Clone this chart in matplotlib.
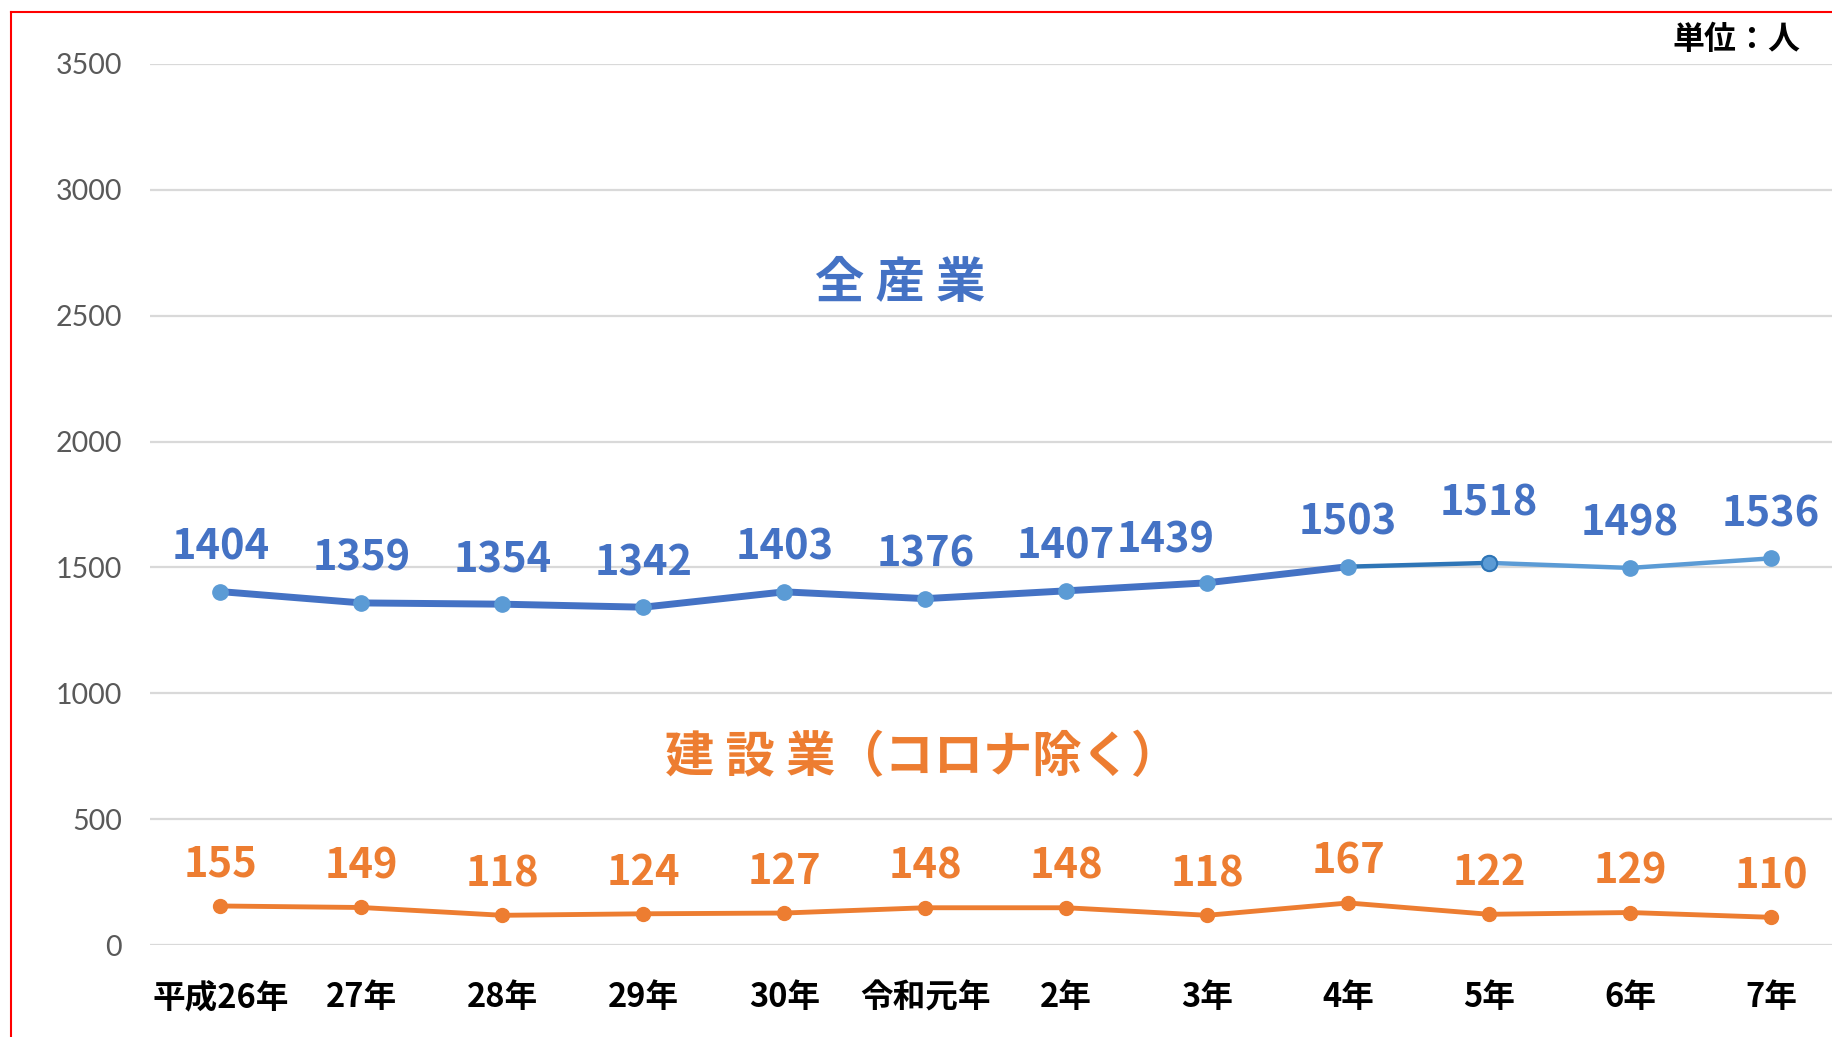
import matplotlib
matplotlib.use('Agg')
import matplotlib.pyplot as plt
from matplotlib.lines import Line2D

plt.rcParams['font.family'] = ['Noto Sans CJK JP', 'DejaVu Sans']

years = ['平成26年', '27年', '28年', '29年', '30年', '令和元年', '2年', '3年', '4年', '5年', '6年', '7年']
all_industry = [1404, 1359, 1354, 1342, 1403, 1376, 1407, 1439, 1503, 1518, 1498, 1536]
construction = [155, 149, 118, 124, 127, 148, 148, 118, 167, 122, 129, 110]
yticks = [0, 500, 1000, 1500, 2000, 2500, 3000, 3500]

BLUE = '#4472C4'
BLUE_DARK = '#2E75B6'
BLUE_LIGHT = '#5B9BD5'
ORANGE = '#ED7D31'
num_font = ['Liberation Sans Narrow', 'Noto Sans CJK JP']

W, H = 1833, 1037
fig = plt.figure(figsize=(W / 100, H / 100), dpi=100)
ax = fig.add_axes([150 / W, 92 / H, 1 - 150 / W, (945 - 64) / H])

x = list(range(len(years)))

# 全産業 line: three colour segments like the original
ax.plot(x[:9], all_industry[:9], color=BLUE, lw=5, solid_capstyle='round', zorder=3)
ax.plot(x[8:10], all_industry[8:10], color=BLUE_DARK, lw=3.2, zorder=3)
ax.plot(x[9:], all_industry[9:], color=BLUE_LIGHT, lw=3.2, zorder=3)
ax.plot(x, all_industry, 'o', ms=11, color=BLUE_LIGHT, mec=BLUE_LIGHT, zorder=4)
ax.plot(x[9], all_industry[9], 'o', ms=11, color=BLUE_LIGHT, mec=BLUE_DARK, mew=1.5, zorder=5)

ax.plot(x, construction, '-o', color=ORANGE, lw=3.5, ms=10, zorder=3)

# data labels
blue_off = {7: (-30, 22), 9: (0, 34)}
for i, v in enumerate(all_industry):
    dx, dy = blue_off.get(i, (0, 23))
    ax.annotate(str(v), (i, v), xytext=(dx, dy), textcoords='offset points',
                ha='center', va='baseline', fontsize=30, fontweight='bold',
                color=BLUE, family=num_font)
for i, v in enumerate(construction):
    ax.annotate(str(v), (i, v), xytext=(0, 21), textcoords='offset points',
                ha='center', va='baseline', fontsize=30, fontweight='bold',
                color=ORANGE, family=num_font)

# series titles
fig.text(900 / W, 1 - 283 / H, '全 産 業', ha='center', va='center',
         fontsize=35.5, fontweight='bold', color=BLUE)
fig.text(923 / W, 1 - 758 / H, '建 設 業（コロナ除く）', ha='center', va='center',
         fontsize=35.5, fontweight='bold', color=ORANGE)
fig.text(1800 / W, 1 - 40 / H, '単位：人', ha='right', va='center',
         fontsize=23, fontweight='bold', color='black')

ax.set_ylim(0, 3500)
ax.set_xlim(-0.5, 11.44)
ax.set_yticks(yticks)
ax.set_yticklabels([str(t) for t in yticks], family=['Lato', 'DejaVu Sans'],
                   fontsize=20.5, color='#595959')
ax.set_xticks(x)
ax.set_xticklabels(years, family=num_font, fontsize=23.5, fontweight='bold', color='black')
ax.tick_params(axis='y', length=0, pad=20)
ax.tick_params(axis='x', length=0, pad=26)
ax.grid(axis='y', color='#D9D9D9', lw=1.6)
ax.set_axisbelow(True)
for s in ax.spines.values():
    s.set_visible(False)

# red frame (left and top edges visible in the crop)
fig.add_artist(Line2D([11 / W, 11 / W], [0, 1 - 12 / H], color='red', lw=1.5))
fig.add_artist(Line2D([11 / W, 1], [1 - 12 / H, 1 - 12 / H], color='red', lw=1.5))

fig.savefig('out.png', dpi=100)
